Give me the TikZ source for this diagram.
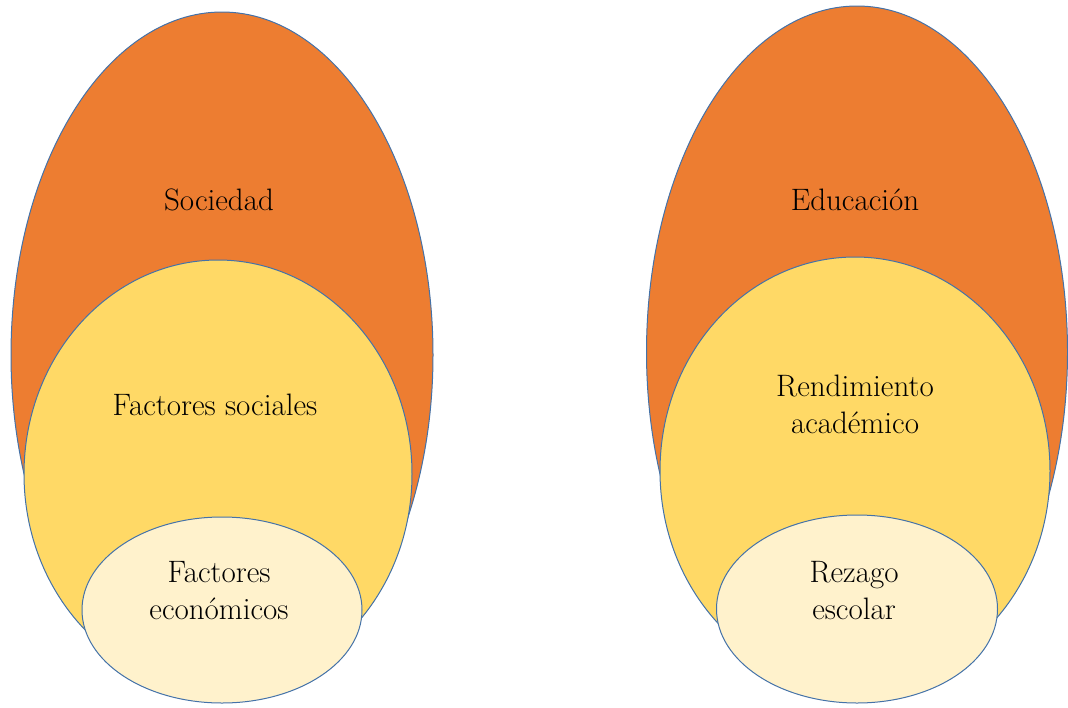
\documentclass[tikz,border=0pt]{standalone}
\usetikzlibrary{shapes.geometric}
\definecolor{outerc}{HTML}{ED7D31}
\definecolor{midc}{HTML}{FFD966}
\definecolor{innerc}{HTML}{FFF2CC}
\definecolor{edgec}{HTML}{4472A8}
\tikzset{
  ring/.style={ellipse, draw=edgec, line width=1pt, inner sep=0pt},
  outerring/.style={ring, fill=outerc},
  midring/.style={ring, fill=midc},
  innerring/.style={ring, fill=innerc},
  lbl/.style={font=\fontsize{31}{37}\selectfont, align=center, text=black}
}
\begin{document}
\begin{tikzpicture}[x=1pt,y=-1pt]
\useasboundingbox (0,0) rectangle (1068,707);
% left group
\node[outerring, minimum width=422pt, minimum height=686pt] (s) at (222,355) {};
\node[midring, minimum width=388pt, minimum height=428pt] (fs) at (218,474) {};
\node[innerring, minimum width=280pt, minimum height=186pt] (fe) at (222,610) {};
\node[lbl] (ts) at (219,200) {Sociedad};
\node[lbl] (tfs) at (215,405) {Factores sociales};
\node[lbl] (tfe) at (219,591) {Factores\\económicos};
% right group
\node[outerring, minimum width=421pt, minimum height=692pt] (e) at (857,352) {};
\node[midring, minimum width=390pt, minimum height=428pt] (ra) at (855,471) {};
\node[innerring, minimum width=281pt, minimum height=188pt] (rz) at (857,609) {};
\node[lbl] (te) at (855,200) {Educación};
\node[lbl] (tra) at (855,404) {Rendimiento\\académico};
\node[lbl] (trz) at (854,591) {Rezago\\escolar};
\end{tikzpicture}
\end{document}
